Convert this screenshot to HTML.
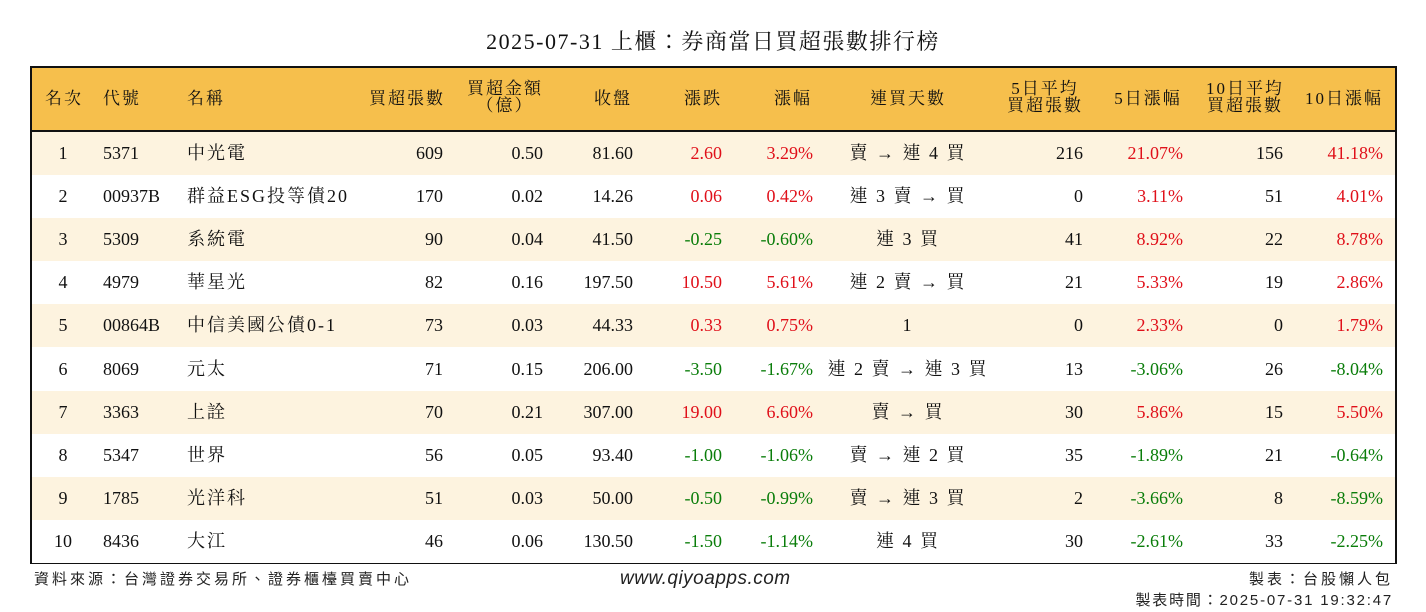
<!DOCTYPE html>
<html><head><meta charset="utf-8">
<style>
body{margin:0;width:1426px;height:612px;background:#fff;position:relative;overflow:hidden;font-family:"Liberation Serif","Noto Serif CJK TC","Noto Serif CJK SC",serif;color:#111}
.t{position:absolute;white-space:nowrap;font-size:18px;line-height:20px}
.h{font-size:17px;line-height:17px;letter-spacing:2px}
.cjk{letter-spacing:2px}
#box{position:absolute;left:30px;top:66px;width:1363px;height:494px;border:2px solid #111;box-sizing:content-box}
#hdr{position:absolute;left:0;top:0;width:1363px;height:62px;background:#F6BF4C;border-bottom:2px solid #111}
.row{position:absolute;left:0;width:1363px;height:43px}
.red{color:#e0101a}.green{color:#0a7d0a}
.foot{position:absolute;font-family:"Liberation Sans","Noto Sans CJK TC","Noto Sans CJK SC",sans-serif;font-size:15px;white-space:nowrap;color:#222;letter-spacing:2px}
</style></head><body>
<div class="t" style="left:0;width:1426px;text-align:center;top:30px;font-size:22px;line-height:24px;letter-spacing:1.5px">2025-07-31 上櫃：券商當日買超張數排行榜</div>
<div id="box">
<div id="hdr"></div>
</div>
<div class="foot" style="left:34px;top:568px;letter-spacing:3px">資料來源：台灣證券交易所、證券櫃檯買賣中心</div>
<div class="foot" style="left:620px;top:568px;font-size:19px;font-style:italic;letter-spacing:0.5px">www.qiyoapps.com</div>
<div class="foot" style="right:33px;top:568px;letter-spacing:3px">製表：台股懶人包</div>
<div class="foot" style="right:33px;top:589px;letter-spacing:1.8px">製表時間：2025-07-31 19:32:47</div>
<script>
const ranks=["1","2","3","4","5","6","7","8","9","10"];
const codes=["5371","00937B","5309","4979","00864B","8069","3363","5347","1785","8436"];
const names=["中光電","群益ESG投等債20","系統電","華星光","中信美國公債0-1","元太","上詮","世界","光洋科","大江"];
const buyLots=["609","170","90","82","73","71","70","56","51","46"];
const buyAmt=["0.50","0.02","0.04","0.16","0.03","0.15","0.21","0.05","0.03","0.06"];
const closes=["81.60","14.26","41.50","197.50","44.33","206.00","307.00","93.40","50.00","130.50"];
const changes=["2.60","0.06","-0.25","10.50","0.33","-3.50","19.00","-1.00","-0.50","-1.50"];
const pcts=["3.29%","0.42%","-0.60%","5.61%","0.75%","-1.67%","6.60%","-1.06%","-0.99%","-1.14%"];
const streaks=["賣 → 連 4 買","連 3 賣 → 買","連 3 買","連 2 賣 → 買","1","連 2 賣 → 連 3 買","賣 → 買","賣 → 連 2 買","賣 → 連 3 買","連 4 買"];
const avg5=["216","0","41","21","0","13","30","35","2","30"];
const pct5=["21.07%","3.11%","8.92%","5.33%","2.33%","-3.06%","5.86%","-1.89%","-3.66%","-2.61%"];
const avg10=["156","51","22","19","0","26","15","21","8","33"];
const pct10=["41.18%","4.01%","8.78%","2.86%","1.79%","-8.04%","5.50%","-0.64%","-8.59%","-2.25%"];
const box=document.getElementById('box');
function put(parent,txt,x,y,align,cls,name){
 const d=document.createElement('div');
 
 
 d.className='t '+(cls||'');
 d.textContent=txt;
 if(align==='l'){d.style.left=x+'px';}
 else if(align==='r'){d.style.right=(1363-x)+'px';}
 else{d.style.left=(x-150)+'px';d.style.width='300px';d.style.textAlign='center';}
 d.style.top=y+'px';
 parent.appendChild(d);
 return d;
}
const hdr=document.getElementById('hdr');
const H=[["名次",32,'c'],["代號",71,'l'],["名稱",155,'l'],["買超張數",413,'r'],["買超金額\n（億）",473,'c'],["收盤",581,'c'],["漲跌",671,'c'],["漲幅",761,'c'],["連買天數",876,'c'],["5日平均\n買超張數",1013,'c'],["5日漲幅",1116,'c'],["10日平均\n買超張數",1213,'c'],["10日漲幅",1312,'c']];
H.forEach(h=>{
 const two=h[0].includes('\n');
 const d=put(hdr,'',h[1],two?12:22,h[2],'h','header-cell');
 d.style.whiteSpace='pre';d.style.lineHeight='17px';
 d.textContent=h[0];
});
function col(v){return v.startsWith('-')?'green':'red';}
for(let i=0;i<ranks.length;i++){
 const r=document.createElement('div');
 
 
 r.className='row';
 r.style.top=(64+i*43.1)+'px';
 r.style.background=i%2===0?'#FDF3DF':'#fff';
 box.appendChild(r);
 const y=11;
 put(r,ranks[i],31,y,'c','','rank');
 put(r,codes[i],71,y,'l','','stock-code');
 put(r,names[i],155,y,'l','cjk','stock-name');
 put(r,buyLots[i],411,y,'r','','buy-lots');
 put(r,buyAmt[i],511,y,'r','','buy-amount');
 put(r,closes[i],601,y,'r','','close-price');
 put(r,changes[i],690,y,'r',col(changes[i]),'price-change');
 put(r,pcts[i],781,y,'r',col(pcts[i]),'pct-change');
 put(r,streaks[i],876,y,'c','cjk','buy-streak');
 put(r,avg5[i],1051,y,'r','','avg5-lots');
 put(r,pct5[i],1151,y,'r',col(pct5[i]),'pct5-change');
 put(r,avg10[i],1251,y,'r','','avg10-lots');
 put(r,pct10[i],1351,y,'r',col(pct10[i]),'pct10-change');
}
</script>
</body></html>
